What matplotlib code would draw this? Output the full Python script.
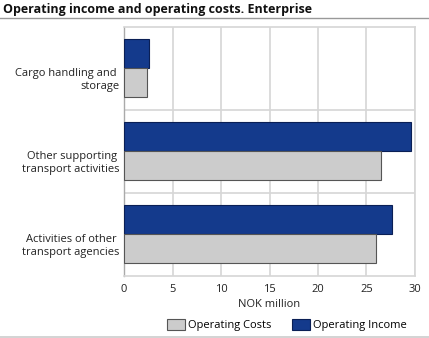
import matplotlib.pyplot as plt
import matplotlib.patches as mpatches
from matplotlib.lines import Line2D
import numpy as np

plt.rcParams['font.family'] = ['Open Sans', 'DejaVu Sans']

categories = ['Cargo handling and \nstorage', 'Other supporting \ntransport activities', 'Activities of other \ntransport agencies']
operating_costs = [2.4, 26.5, 26.0]
operating_income = [2.6, 29.6, 27.6]
xticks = [0, 5, 10, 15, 20, 25, 30]

blue = '#143a8c'
grey = '#cccccc'
frame = '#d6d6d6'
fs = 8.0

fig = plt.figure(figsize=(4.29, 3.38), dpi=100)
ax = fig.add_axes([124 / 429, 1 - 275.7 / 338, (415 - 124) / 429, (275.7 - 26.7) / 338])

y = np.arange(len(categories))
h = 0.35
ax.barh(y - h / 2, operating_income, height=h, color=blue, edgecolor='#0a1f55', linewidth=0.8, zorder=3)
ax.barh(y + h / 2, operating_costs, height=h, color=grey, edgecolor='#555555', linewidth=0.8, zorder=3)

ax.set_xlim(0, 30)
ax.set_ylim(len(categories) - 0.5, -0.5)
ax.set_xticks(xticks)
ax.set_xticklabels([str(t) for t in xticks], fontsize=fs, color='#222222')
# labels sit a little below the category centre in the original
ax.set_yticks(y + 0.11)
ax.set_yticklabels(categories, fontsize=fs, color='#222222', linespacing=1.25)
ax.tick_params(axis='both', length=0)
ax.tick_params(axis='x', pad=6)
ax.tick_params(axis='y', pad=3)

ax.grid(axis='x', color=frame, linewidth=1.2, zorder=0)
for b in np.arange(0.5, len(categories) - 0.5, 1):
    ax.axhline(b, color=frame, linewidth=1.2, zorder=0)

for s in ['top', 'right', 'bottom']:
    ax.spines[s].set_color(frame)
    ax.spines[s].set_linewidth(1.2)
ax.spines['left'].set_color('#aaaaaa')
ax.spines['left'].set_linewidth(1.0)

ax.set_xlabel('NOK million', fontsize=fs, color='#222222', labelpad=3)

fig.text(3 / 429, 1 - 9 / 338, 'Operating income and operating costs. Enterprise',
         fontsize=9.0, fontweight='bold', va='center', ha='left', color='#111111')
fig.add_artist(Line2D([0, 1], [1 - 17.7 / 338] * 2, color='#999999', linewidth=1.0))
fig.add_artist(Line2D([0, 1], [1 - 336.7 / 338] * 2, color='#cccccc', linewidth=1.2))

handles = [mpatches.Patch(facecolor=grey, edgecolor='#555555', linewidth=0.8, label='Operating Costs'),
           mpatches.Patch(facecolor=blue, edgecolor='#0a1f55', linewidth=0.8, label='Operating Income')]
fig.legend(handles=handles, loc='center', bbox_to_anchor=(287 / 429, 1 - 325 / 338), ncol=2,
           frameon=False, fontsize=fs, handlelength=1.65, handleheight=1.1,
           handletextpad=0.3, columnspacing=1.8, borderpad=0)

fig.savefig('out.png', dpi=100)
